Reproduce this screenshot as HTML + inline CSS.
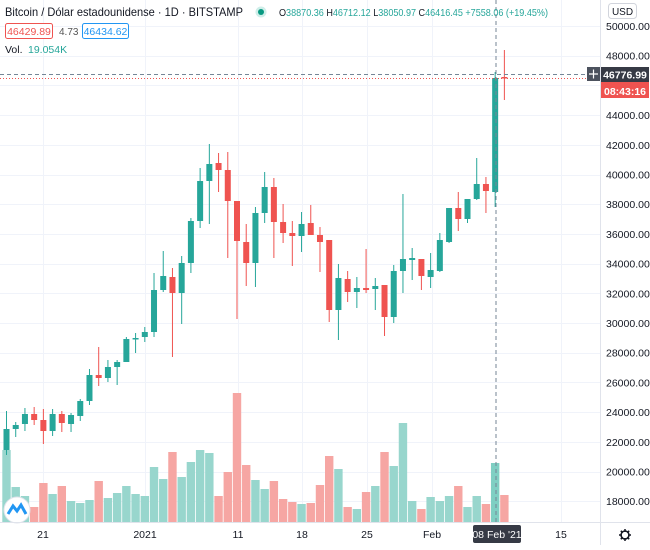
<!DOCTYPE html>
<html><head><meta charset="utf-8"><style>
html,body{margin:0;padding:0;background:#fff;}
body{width:650px;height:545px;overflow:hidden;font-family:"Liberation Sans",sans-serif;}
svg text{font-family:"Liberation Sans",sans-serif;}
</style></head><body>
<svg id="s" width="650" height="545" xmlns="http://www.w3.org/2000/svg">
<rect width="650" height="545" fill="#fff"/>
<g id="grid"></g>
<g id="vol"></g>
<g id="cand"></g>
<g id="axis"></g>
<line x1="496" y1="0" x2="496" y2="522" stroke="#758696" stroke-dasharray="4,3" stroke-width="1"/>
<line x1="0" y1="74.5" x2="600" y2="74.5" stroke="#758696" stroke-dasharray="4,3" stroke-width="1"/>
<line x1="0" y1="78.5" x2="600" y2="78.5" stroke="#ef5350" stroke-dasharray="1,2" stroke-width="1"/>
<text x="5" y="16" font-size="12" fill="#131722" textLength="238" lengthAdjust="spacingAndGlyphs">Bitcoin / Dólar estadounidense · 1D · BITSTAMP</text>
<circle cx="261" cy="12" r="5.5" fill="#cfeee9"/><circle cx="261" cy="12" r="3" fill="#089981"/>
<text x="279" y="16" font-size="10.5" fill="#131722" textLength="269" lengthAdjust="spacingAndGlyphs">O<tspan fill="#26a69a">38870.36</tspan> H<tspan fill="#26a69a">46712.12</tspan> L<tspan fill="#26a69a">38050.97</tspan> C<tspan fill="#26a69a">46416.45 +7558.06 (+19.45%)</tspan></text>
<rect x="5.5" y="23.5" width="47" height="15" rx="2" fill="#fff" stroke="#ef5350"/>
<text x="29" y="35" font-size="10.5" fill="#ef5350" text-anchor="middle">46429.89</text>
<text x="59" y="35" font-size="10" fill="#555">4.73</text>
<rect x="82.5" y="23.5" width="46" height="15" rx="2" fill="#fff" stroke="#2196f3"/>
<text x="105.5" y="35" font-size="10.5" fill="#2196f3" text-anchor="middle">46434.62</text>
<text x="5" y="53" font-size="10.5" fill="#131722">Vol.</text>
<text x="28" y="53" font-size="10.5" fill="#26a69a">19.054K</text>
<circle cx="17" cy="510" r="13" fill="#fff" stroke="#e0e3eb"/>
<path d="M8 514 L13 506 L17 511 L21 505 L26 514" stroke="#2196f3" stroke-width="3" fill="none"/>
<line x1="600.5" y1="0" x2="600.5" y2="545" stroke="#e0e3eb"/>
<line x1="0" y1="522.5" x2="650" y2="522.5" stroke="#e0e3eb"/>
<rect x="608.5" y="3.5" width="28" height="15" rx="3" fill="#fff" stroke="#d1d4dc"/>
<text x="622.5" y="15" font-size="10" fill="#131722" text-anchor="middle">USD</text>
<rect x="587" y="67" width="13" height="14" fill="#4c525e"/>
<path d="M593.5 69.5v9M589 74h9" stroke="#fff" stroke-width="1.2"/>
<rect x="601" y="80" width="48" height="18" fill="#ef5350"/>
<text x="625" y="95" font-size="10.5" fill="#fff" text-anchor="middle" font-weight="bold">08:43:16</text>
<rect x="601" y="67" width="48" height="15" fill="#363a45"/>
<text x="625" y="78.5" font-size="10.5" fill="#fff" text-anchor="middle" font-weight="bold">46776.99</text>
<g font-size="10.5" fill="#131722" text-anchor="middle">
<text x="43" y="538">21</text><text x="145" y="538">2021</text><text x="238" y="538">11</text>
<text x="302" y="538">18</text><text x="367" y="538">25</text><text x="432" y="538">Feb</text><text x="561" y="538">15</text>
</g>
<rect x="473" y="525" width="48" height="18" rx="2" fill="#363a45"/>
<text x="497" y="538" font-size="10.5" fill="#fff" text-anchor="middle">08 Feb '21</text>
<circle cx="625" cy="535" r="4" fill="none" stroke="#131722" stroke-width="1.5"/>
<path d="M625 529v3M625 538v3M619 535h3M628 535h3M620.8 530.8l2 2M627.2 537.2l2 2M620.8 539.2l2-2M627.2 532.8l2-2" stroke="#131722" stroke-width="1.5"/>
</svg>
<script>
var NS="http://www.w3.org/2000/svg";
function el(p,t,a){var e=document.createElementNS(NS,t);for(var k in a)e.setAttribute(k,a[k]);document.getElementById(p).appendChild(e);return e;}
var vx=[43,145,238,302,367,432,561];
vx.forEach(function(x){el('grid','line',{x1:x+.5,y1:0,x2:x+.5,y2:522,stroke:'#f0f3fa'});});
for(var p=50000;p>=18000;p-=2000){var y=26+(50000-p)/2000*29.7;
 el('grid','line',{x1:0,y1:Math.round(y)+.5,x2:600,y2:Math.round(y)+.5,stroke:'#f0f3fa'});
 if(Math.abs(y-74)>9&&Math.abs(y-88)>9){var t=el('axis','text',{x:606,y:y+4,'font-size':10.5,fill:'#131722'});t.textContent=p+'.00';}}
var C=[[450,429,411,455],[429,425,422,437],[424,414,408,431],[414,420,407,425],[420,431,409,444],[431,414,409,436],[414,423,411,432],[424,415,413,432],[416,401,399,421],[401,375,369,405],[375,378,347,386],[378,367,360,382],[367,362,360,385],[362,339,337,353],[339,338,333,353],[337,332,327,342],[332,290,273,337],[290,276,251,292],[277,293,268,357],[293,263,256,324],[263,221,218,273],[221,181,168,228],[181,164,144,224],[163,170,153,192],[170,201,152,258],[201,241,201,319],[242,263,224,286],[263,213,207,287],
[213,187,172,223],[187,222,178,258],[222,233,204,243],[233,236,221,266],[236,224,212,252],[223,235,205,235],[235,242,227,272],[240,310,240,322],[310,278,264,340],[279,292,271,302],[292,288,277,308],[288,290,249,293],[289,286,278,310],[285,317,285,336],[317,271,265,323],[271,259,194,293],[260,258,248,280],[259,276,259,290],[277,270,253,288],[271,240,233,272],[242,208,208,243],[208,219,192,231],[219,199,199,223],[199,184,158,200],[184,191,177,213],[192,78,72,207],[77,78,50,100]];
var V=[[450,1],[487,1],[496,1],[507,0],[483,0],[494,1],[486,0],[501,1],[503,1],[500,1],[481,0],[498,1],[493,1],[486,1],[494,1],[496,1],[467,1],[479,1],[452,0],[477,1],[462,1],[450,1],[453,1],[496,0],[472,0],[393,0],[465,0],[480,1],[489,1],[481,0],[499,0],[502,0],[504,1],[503,0],[485,0],[456,0],[469,1],[507,0],[509,1],[492,0],[486,1],[452,0],[466,1],[423,1],[501,1],[509,0],[497,1],[501,1],[496,1],[486,0],[507,1],[496,1],[504,0],[463,1],[495,0]];
function X(i){return 6.5+i*9.22;}
V.forEach(function(v,i){var x=X(i);el('vol','rect',{x:x-4.2,y:v[0],width:8.4,height:522-v[0],fill:v[1]?(i==53?'#7fcfc3':'#98d6cd'):'#f6a6a3'});});
C.forEach(function(c,i){var x=X(i),up=c[1]<c[0],col=up?'#26a69a':'#ef5350';
 el('cand','line',{x1:x,y1:c[2],x2:x,y2:c[3],stroke:col,'stroke-width':1});
 var t=Math.min(c[0],c[1]),h=Math.max(1.5,Math.abs(c[0]-c[1]));
 el('cand','rect',{x:x-3,y:t,width:6,height:h,fill:col});});
</script>
</body></html>
